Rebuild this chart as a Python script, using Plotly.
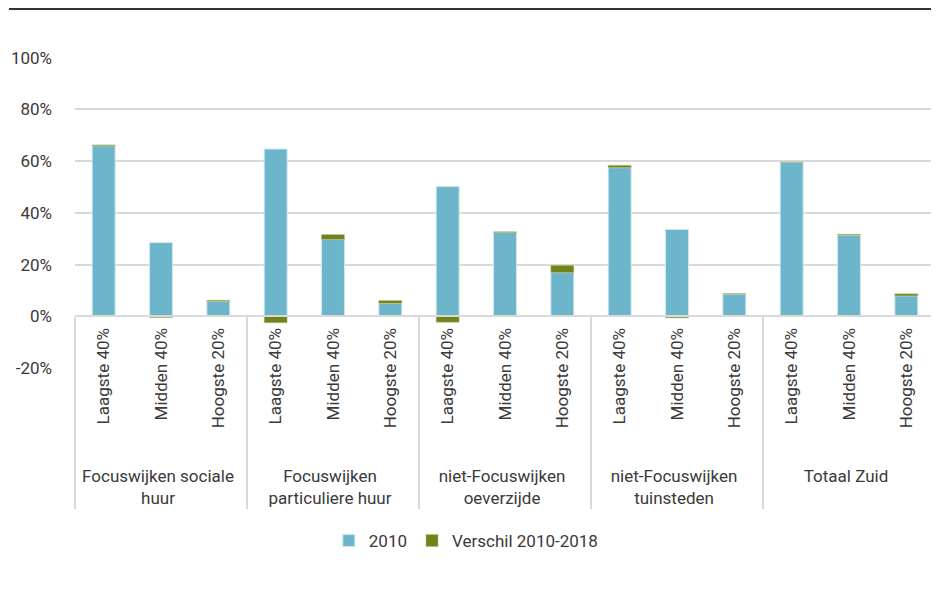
import plotly.graph_objects as go

groups = ["Focuswijken sociale<br>huur", "Focuswijken<br>particuliere huur",
          "niet-Focuswijken<br>oeverzijde", "niet-Focuswijken<br>tuinsteden", "Totaal Zuid"]
classes = ["Laagste 40%", "Midden 40%", "Hoogste 20%"]

val_2010 = [66.0, 28.5, 5.8,
            64.7, 29.7, 5.0,
            50.2, 32.4, 16.9,
            57.5, 33.6, 8.6,
            59.6, 31.4, 7.9]
verschil = [0.3, -0.5, 0.4,
            -2.5, 1.9, 1.1,
            -2.3, 0.3, 2.8,
            0.9, -0.6, 0.2,
            0.1, 0.3, 0.8]

NB = "\u00a0"
# pad the rotated inner labels so the group labels sit lower, as in the reference
padded = [NB * 5 + c + NB for c in classes]

xg = [g for g in groups for _ in classes]
xc = [c for _ in groups for c in padded]

BLUE = "#6DB5CA"
OLIVE = "#738219"
FONT = "Roboto"
TXT = "#3a3a3a"
FS = 17

# page body has an 8px margin: figure occupies 931x581 starting at (8,8)
W, H = 931, 581
L, R, T, B = 67, 4, 49, 221
PH = H - T - B
PW = W - L - R

fig = go.Figure()
fig.add_trace(go.Bar(x=[xg, xc], y=val_2010, name="2010",
                     marker=dict(color=BLUE, line=dict(color="#cfe8ef", width=1))))
fig.add_trace(go.Bar(x=[xg, xc], y=verschil, name="Verschil 2010-2018",
                     marker=dict(color=OLIVE, line=dict(color="#b9c08a", width=0.5))))

fig.update_layout(
    width=W, height=H,
    barmode="relative", bargap=0.6,
    margin=dict(l=L, r=R, t=T, b=B, autoexpand=False),
    plot_bgcolor="white", paper_bgcolor="white",
    font=dict(family=FONT, size=FS, color=TXT),
    legend=dict(orientation="h", x=0.455, xanchor="center", y=-(533 - (T + PH)) / PH,
                yanchor="middle", font=dict(size=FS, color=TXT), itemwidth=30,
                traceorder="normal"),
    showlegend=True,
)
fig.update_yaxes(range=[-20, 100.3], tickvals=[-20, 0, 20, 40, 60, 80, 100],
                 ticktext=["-20%", "0%", "20%", "40%", "60%", "80%", "100%"],
                 showgrid=True, gridcolor="#d9d9d9", gridwidth=1.5, automargin=False,
                 zeroline=False, showline=False, ticks="", ticklabelstandoff=22,
                 tickfont=dict(size=FS, color=TXT))
fig.update_xaxes(type="multicategory", anchor="free", position=20 / 120.3,
                 showline=True, linecolor="#d9d9d9", linewidth=1.5, automargin=False,
                 showgrid=False, tickangle=-90,
                 showdividers=True, dividercolor="#d9d9d9", dividerwidth=1.5,
                 tickfont=dict(size=FS, color=TXT))

fig.add_shape(type="line", xref="paper", yref="paper",
              x0=(1 - L) / PW, x1=(W - L) / PW + 0.01,
              y0=(T + PH - 1) / PH, y1=(T + PH - 1) / PH,
              line=dict(color="#333333", width=2))

fig.write_html("out.html")
